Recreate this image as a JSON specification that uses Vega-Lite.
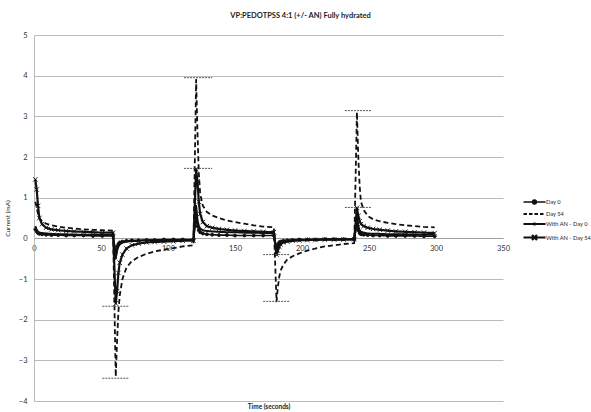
{
  "$schema": "https://vega.github.io/schema/vega-lite/v6.json",
  "width": 469,
  "height": 366,
  "autosize": {"type": "none"},
  "padding": {"left": 34, "top": 35, "right": 88, "bottom": 11},
  "background": "white",
  "title": {"text": "VP:PEDOTPSS 4:1 (+/- AN) Fully hydrated", "font": "Lato", "fontSize": 7.5, "fontWeight": "bold", "color": "#222", "dx": 32, "offset": 12, "anchor": "middle"},
  "config": {
    "view": {"stroke": null},
    "axis": {"labelFont": "Lato", "titleFont": "Lato", "labelColor": "#333", "titleColor": "#222"}
  },
  "datasets": {
    "ca": [
      {"t": 1, "Day 0": 0.22, "Day 54": 0.9, "With AN - Day 0": 0.3, "With AN - Day 54": 1.45},
      {"t": 2, "Day 0": 0.17, "Day 54": 0.75, "With AN - Day 0": 0.2, "With AN - Day 54": 1.2},
      {"t": 3, "Day 0": 0.13, "Day 54": 0.6, "With AN - Day 0": 0.16, "With AN - Day 54": 0.8},
      {"t": 4, "Day 0": 0.11, "Day 54": 0.5, "With AN - Day 0": 0.14, "With AN - Day 54": 0.5},
      {"t": 6, "Day 0": 0.1, "Day 54": 0.42, "With AN - Day 0": 0.13, "With AN - Day 54": 0.35},
      {"t": 9, "Day 0": 0.09, "Day 54": 0.36, "With AN - Day 0": 0.12, "With AN - Day 54": 0.26},
      {"t": 13, "Day 0": 0.08, "Day 54": 0.32, "With AN - Day 0": 0.11, "With AN - Day 54": 0.22},
      {"t": 18, "Day 0": 0.08, "Day 54": 0.29, "With AN - Day 0": 0.1, "With AN - Day 54": 0.2},
      {"t": 24, "Day 0": 0.07, "Day 54": 0.26, "With AN - Day 0": 0.1, "With AN - Day 54": 0.18},
      {"t": 30, "Day 0": 0.07, "Day 54": 0.24, "With AN - Day 0": 0.09, "With AN - Day 54": 0.17},
      {"t": 37, "Day 0": 0.07, "Day 54": 0.22, "With AN - Day 0": 0.09, "With AN - Day 54": 0.16},
      {"t": 44, "Day 0": 0.06, "Day 54": 0.21, "With AN - Day 0": 0.09, "With AN - Day 54": 0.15},
      {"t": 51, "Day 0": 0.06, "Day 54": 0.2, "With AN - Day 0": 0.08, "With AN - Day 54": 0.14},
      {"t": 59, "Day 0": 0.06, "Day 54": 0.19, "With AN - Day 0": 0.08, "With AN - Day 54": 0.14},
      {"t": 61, "Day 0": -0.35, "Day 54": -3.4, "With AN - Day 0": -0.5, "With AN - Day 54": -1.6},
      {"t": 62, "Day 0": -0.2, "Day 54": -2.5, "With AN - Day 0": -0.3, "With AN - Day 54": -1.3},
      {"t": 63, "Day 0": -0.14, "Day 54": -1.8, "With AN - Day 0": -0.2, "With AN - Day 54": -0.85},
      {"t": 64, "Day 0": -0.1, "Day 54": -1.4, "With AN - Day 0": -0.15, "With AN - Day 54": -0.6},
      {"t": 66, "Day 0": -0.08, "Day 54": -1.0, "With AN - Day 0": -0.1, "With AN - Day 54": -0.4},
      {"t": 69, "Day 0": -0.06, "Day 54": -0.72, "With AN - Day 0": -0.08, "With AN - Day 54": -0.25},
      {"t": 73, "Day 0": -0.05, "Day 54": -0.56, "With AN - Day 0": -0.07, "With AN - Day 54": -0.17},
      {"t": 78, "Day 0": -0.05, "Day 54": -0.46, "With AN - Day 0": -0.06, "With AN - Day 54": -0.13},
      {"t": 84, "Day 0": -0.04, "Day 54": -0.38, "With AN - Day 0": -0.05, "With AN - Day 54": -0.1},
      {"t": 90, "Day 0": -0.04, "Day 54": -0.32, "With AN - Day 0": -0.05, "With AN - Day 54": -0.09},
      {"t": 97, "Day 0": -0.03, "Day 54": -0.28, "With AN - Day 0": -0.04, "With AN - Day 54": -0.08},
      {"t": 104, "Day 0": -0.03, "Day 54": -0.24, "With AN - Day 0": -0.04, "With AN - Day 54": -0.07},
      {"t": 111, "Day 0": -0.03, "Day 54": -0.2, "With AN - Day 0": -0.04, "With AN - Day 54": -0.06},
      {"t": 119, "Day 0": -0.03, "Day 54": -0.17, "With AN - Day 0": -0.04, "With AN - Day 54": -0.06},
      {"t": 121, "Day 0": 0.5, "Day 54": 3.9, "With AN - Day 0": 0.8, "With AN - Day 54": 1.7},
      {"t": 122, "Day 0": 0.3, "Day 54": 2.6, "With AN - Day 0": 0.45, "With AN - Day 54": 1.4},
      {"t": 123, "Day 0": 0.2, "Day 54": 1.6, "With AN - Day 0": 0.3, "With AN - Day 54": 0.9},
      {"t": 124, "Day 0": 0.15, "Day 54": 1.1, "With AN - Day 0": 0.24, "With AN - Day 54": 0.6},
      {"t": 126, "Day 0": 0.12, "Day 54": 0.8, "With AN - Day 0": 0.2, "With AN - Day 54": 0.4},
      {"t": 129, "Day 0": 0.1, "Day 54": 0.65, "With AN - Day 0": 0.18, "With AN - Day 54": 0.3},
      {"t": 133, "Day 0": 0.09, "Day 54": 0.56, "With AN - Day 0": 0.17, "With AN - Day 54": 0.26},
      {"t": 138, "Day 0": 0.08, "Day 54": 0.5, "With AN - Day 0": 0.16, "With AN - Day 54": 0.23},
      {"t": 144, "Day 0": 0.08, "Day 54": 0.44, "With AN - Day 0": 0.15, "With AN - Day 54": 0.21},
      {"t": 150, "Day 0": 0.07, "Day 54": 0.4, "With AN - Day 0": 0.15, "With AN - Day 54": 0.19},
      {"t": 157, "Day 0": 0.07, "Day 54": 0.36, "With AN - Day 0": 0.14, "With AN - Day 54": 0.18},
      {"t": 164, "Day 0": 0.07, "Day 54": 0.32, "With AN - Day 0": 0.14, "With AN - Day 54": 0.17},
      {"t": 171, "Day 0": 0.07, "Day 54": 0.29, "With AN - Day 0": 0.13, "With AN - Day 54": 0.16},
      {"t": 179, "Day 0": 0.07, "Day 54": 0.27, "With AN - Day 0": 0.13, "With AN - Day 54": 0.15},
      {"t": 181, "Day 0": -0.3, "Day 54": -1.55, "With AN - Day 0": -0.35, "With AN - Day 54": -0.4},
      {"t": 182, "Day 0": -0.15, "Day 54": -1.2, "With AN - Day 0": -0.2, "With AN - Day 54": -0.3},
      {"t": 183, "Day 0": -0.1, "Day 54": -0.95, "With AN - Day 0": -0.12, "With AN - Day 54": -0.2},
      {"t": 184, "Day 0": -0.08, "Day 54": -0.8, "With AN - Day 0": -0.09, "With AN - Day 54": -0.15},
      {"t": 186, "Day 0": -0.06, "Day 54": -0.65, "With AN - Day 0": -0.07, "With AN - Day 54": -0.1},
      {"t": 189, "Day 0": -0.05, "Day 54": -0.52, "With AN - Day 0": -0.06, "With AN - Day 54": -0.08},
      {"t": 193, "Day 0": -0.04, "Day 54": -0.44, "With AN - Day 0": -0.05, "With AN - Day 54": -0.06},
      {"t": 198, "Day 0": -0.03, "Day 54": -0.37, "With AN - Day 0": -0.04, "With AN - Day 54": -0.05},
      {"t": 204, "Day 0": -0.03, "Day 54": -0.3, "With AN - Day 0": -0.04, "With AN - Day 54": -0.04},
      {"t": 210, "Day 0": -0.03, "Day 54": -0.25, "With AN - Day 0": -0.03, "With AN - Day 54": -0.04},
      {"t": 217, "Day 0": -0.02, "Day 54": -0.2, "With AN - Day 0": -0.03, "With AN - Day 54": -0.03},
      {"t": 224, "Day 0": -0.02, "Day 54": -0.17, "With AN - Day 0": -0.03, "With AN - Day 54": -0.03},
      {"t": 231, "Day 0": -0.02, "Day 54": -0.14, "With AN - Day 0": -0.03, "With AN - Day 54": -0.03},
      {"t": 239, "Day 0": -0.02, "Day 54": -0.12, "With AN - Day 0": -0.03, "With AN - Day 54": -0.02},
      {"t": 241, "Day 0": 0.35, "Day 54": 3.1, "With AN - Day 0": 0.5, "With AN - Day 54": 0.75},
      {"t": 242, "Day 0": 0.2, "Day 54": 2.0, "With AN - Day 0": 0.3, "With AN - Day 54": 0.55},
      {"t": 243, "Day 0": 0.13, "Day 54": 1.3, "With AN - Day 0": 0.2, "With AN - Day 54": 0.42},
      {"t": 244, "Day 0": 0.1, "Day 54": 0.9, "With AN - Day 0": 0.16, "With AN - Day 54": 0.35},
      {"t": 246, "Day 0": 0.09, "Day 54": 0.7, "With AN - Day 0": 0.14, "With AN - Day 54": 0.3},
      {"t": 249, "Day 0": 0.08, "Day 54": 0.55, "With AN - Day 0": 0.12, "With AN - Day 54": 0.26},
      {"t": 253, "Day 0": 0.07, "Day 54": 0.47, "With AN - Day 0": 0.11, "With AN - Day 54": 0.23},
      {"t": 258, "Day 0": 0.07, "Day 54": 0.42, "With AN - Day 0": 0.11, "With AN - Day 54": 0.21},
      {"t": 264, "Day 0": 0.06, "Day 54": 0.38, "With AN - Day 0": 0.1, "With AN - Day 54": 0.19},
      {"t": 270, "Day 0": 0.06, "Day 54": 0.35, "With AN - Day 0": 0.1, "With AN - Day 54": 0.17},
      {"t": 277, "Day 0": 0.06, "Day 54": 0.32, "With AN - Day 0": 0.1, "With AN - Day 54": 0.16},
      {"t": 284, "Day 0": 0.06, "Day 54": 0.3, "With AN - Day 0": 0.09, "With AN - Day 54": 0.15},
      {"t": 291, "Day 0": 0.05, "Day 54": 0.28, "With AN - Day 0": 0.09, "With AN - Day 54": 0.14},
      {"t": 299, "Day 0": 0.05, "Day 54": 0.27, "With AN - Day 0": 0.09, "With AN - Day 54": 0.13}
    ],
    "caps": [
      {"lo": 51, "hi": 71, "y": -1.67},
      {"lo": 51, "hi": 71, "y": -3.44},
      {"lo": 112, "hi": 133, "y": 3.95},
      {"lo": 112, "hi": 133, "y": 1.72},
      {"lo": 171, "hi": 191, "y": -0.4},
      {"lo": 171, "hi": 191, "y": -1.55},
      {"lo": 232, "hi": 252, "y": 3.14},
      {"lo": 232, "hi": 252, "y": 0.76}
    ]
  },
  "layer": [
    {
      "data": {"name": "ca"},
      "transform": [{"fold": ["Day 0", "Day 54", "With AN - Day 0", "With AN - Day 54"], "as": ["series", "current"]}],
      "mark": {"type": "line", "strokeJoin": "round"},
      "encoding": {
        "x": {"field": "t", "type": "quantitative", "scale": {"domain": [0, 350], "nice": false},
          "axis": {"values": [0, 50, 100, 150, 200, 250, 300, 350], "offset": -163, "grid": false, "ticks": false, "domain": true, "domainColor": "#999", "domainWidth": 0.8, "labelFontSize": 7.5, "labelPadding": 6, "labelFlush": false, "title": "Time (seconds)", "titleFontSize": 6.5, "titleFontWeight": "bold", "titleY": 165, "titleBaseline": "top"}},
        "y": {"field": "current", "type": "quantitative", "scale": {"domain": [-4, 5], "nice": false},
          "axis": {"values": [-4, -3, -2, -1, 0, 1, 2, 3, 4, 5], "grid": true, "gridColor": "#aaa", "gridWidth": 0.8, "ticks": false, "domainColor": "#aaa", "domainWidth": 0.8, "labelFontSize": 7.5, "labelPadding": 7, "title": "Current (mA)", "titleFontSize": 6.5, "titleFontWeight": "normal", "titlePadding": 8}},
        "color": {"field": "series", "type": "nominal",
          "scale": {"domain": ["Day 0", "Day 54", "With AN - Day 0", "With AN - Day 54"], "range": ["#111", "#111", "#111", "#111"]},
          "legend": {"orient": "none", "legendX": 494, "legendY": 161, "title": null, "symbolSize": 100, "labelOffset": 5, "rowPadding": 0, "labelFontSize": 5.7, "labelFont": "Lato", "labelColor": "#222",
            "encode": {"symbols": {"update": {
              "shape": {"signal": "datum.value === 'Day 0' ? 'M-2.2,0L2.2,0M-0.4,0A0.4,0.4,0,1,1,0.4,0A0.4,0.4,0,1,1,-0.4,0Z' : datum.value === 'Day 54' ? 'M-2.2,0L-1.5,0M-1.1,0L-0.4,0M0,0L0.7,0M1.1,0L1.8,0' : datum.value === 'With AN - Day 0' ? 'M-2.2,0L2.2,0M0,-0.3L0,0.3' : 'M-2.2,0L2.2,0M-0.5,-0.5L0.5,0.5M-0.5,0.5L0.5,-0.5'"},
              "strokeWidth": {"signal": "datum.value === 'Day 54' ? 2.5 : datum.value === 'Day 0' ? 1.5 : 1"},
              "stroke": {"value": "#111"},
              "fill": {"value": "#111"},
              "strokeDash": {"value": [1, 0]}
            }}}}},
        "strokeDash": {"field": "series", "type": "nominal", "scale": {"domain": ["Day 0", "Day 54", "With AN - Day 0", "With AN - Day 54"], "range": [[1, 0], [5, 3], [1, 0], [1, 0]]}, "legend": null},
        "strokeWidth": {"field": "series", "type": "nominal", "scale": {"domain": ["Day 0", "Day 54", "With AN - Day 0", "With AN - Day 54"], "range": [1.6, 2.2, 0.9, 1.2]}, "legend": null},
        "order": {"field": "t", "type": "quantitative"}
      }
    },
    {
      "data": {"name": "ca"},
      "transform": [
        {"fold": ["Day 0", "With AN - Day 54"], "as": ["series", "current"]}
      ],
      "mark": {"type": "point", "filled": true, "color": "#111", "stroke": "#111", "strokeWidth": 0.9, "opacity": 1},
      "encoding": {
        "x": {"field": "t", "type": "quantitative"},
        "y": {"field": "current", "type": "quantitative"},
        "shape": {"field": "series", "type": "nominal", "scale": {"domain": ["Day 0", "With AN - Day 54"], "range": ["circle", "M-1,-1L1,1M-1,1L1,-1"]}, "legend": null},
        "size": {"field": "series", "type": "nominal", "scale": {"domain": ["Day 0", "With AN - Day 54"], "range": [9, 20]}, "legend": null}
      }
    },
    {
      "data": {"name": "caps"},
      "mark": {"type": "rule", "color": "#555", "strokeWidth": 1, "strokeDash": [2, 1]},
      "encoding": {
        "x": {"field": "lo", "type": "quantitative"},
        "x2": {"field": "hi"},
        "y": {"field": "y", "type": "quantitative"}
      }
    }
  ]
}
